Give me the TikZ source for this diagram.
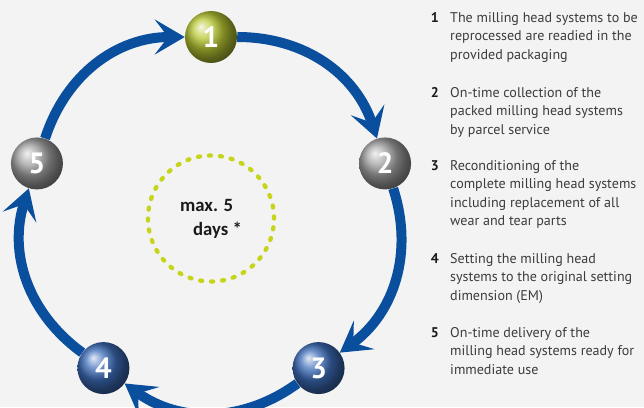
\documentclass[tikz,border=0pt]{standalone}
\usepackage{fontspec}
\setmainfont{PT Sans}
\setsansfont{PT Sans}
\newfontfamily\limitfont{Carlito}
\usetikzlibrary{arrows.meta,calc,shapes.geometric}
\definecolor{paper}{HTML}{F3F3F3}
\definecolor{ink}{HTML}{1A1A1A}
\definecolor{softink}{HTML}{3C3C3C}
\definecolor{flowblue}{HTML}{0A4F9E}
\definecolor{lime}{HTML}{B8C733}
\definecolor{steel}{HTML}{A2A2A2}
\definecolor{stepblue}{HTML}{3C6CB8}
\definecolor{dotlime}{HTML}{C6D41A}

\begin{document}
\begin{tikzpicture}[x=0.03cm,y=0.03cm,font=\sffamily,
  ball/.style={circle,minimum size=1.56cm,inner sep=0pt,shading=ball,text=white,font=\fontsize{25}{25}\selectfont\bfseries},
  loopflow/.style={line width=0.3cm,color=flowblue,-{Stealth[length=9mm,width=10.5mm,inset=4mm]}},
  ring/.style={circle,draw=dotlime,line width=0.13cm,dash pattern=on 0.06cm off 0.27cm,line cap=round,minimum size=3.78cm,inner sep=0pt},
  item/.style={anchor=north west,align=left,inner sep=0pt,text=softink,font=\fontsize{12}{15.8}\selectfont}]
  \fill[paper] (0,0) rectangle (644,407);
  \useasboundingbox (0,0) rectangle (644,407);
  \node[ring,align=left,text=ink,font=\limitfont\fontsize{16}{20.5}\selectfont\bfseries] (limit) at (211,188.5) {max. 5\\\hspace*{0.39cm}days *};
  \foreach \n/\ang/\col in {1/90/lime,2/18/steel,3/-54/stepblue,4/-126/stepblue,5/162/steel}
    \node[ball,ball color=\col] (b\n) at ($(211,187)+(\ang:5.49cm)$) {\n};
  \foreach \a/\b in {1/2,2/3,3/4,4/5,5/1}
    \draw[loopflow] (b\a) to[bend left=36] (b\b);
  \foreach \y/\n/\body in {
    385/1/{The milling head systems to be\\reprocessed are readied in the\\provided packaging},
    310/2/{On-time collection of the\\packed milling head systems\\by parcel service},
    237/3/{Reconditioning of the\\complete milling head systems\\including replacement of all\\wear and tear parts},
    144/4/{Setting the milling head\\systems to the original setting\\dimension (EM)},
    70/5/{On-time delivery of the\\milling head systems ready for\\immediate use}} {
    \node[anchor=base east,inner sep=0pt,text=ink,font=\fontsize{12}{15.8}\selectfont\bfseries] (n\n) at (439,\y) {\n};
    \node[item] (t\n) at (450,\y+12.9) {\strut\body};
  }
\end{tikzpicture}
\end{document}
